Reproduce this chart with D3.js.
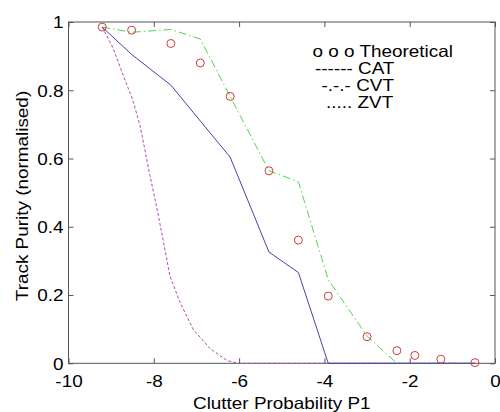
<!DOCTYPE html>
<html>
<head>
<meta charset="utf-8">
<title>Track purity</title>
<script src="https://d3js.org/d3.v7.min.js"></script>
<style>
  body { margin: 0; background: #fff; }
  text { font-family: "Liberation Sans", Arial, sans-serif; fill: #000; }
  .axis path { display: none; }
  .axis line { stroke: #555; }
</style>
</head>
<body>
<div id="chart"></div>
<script>
// values
var xGrid = [-9.21, -8.52, -7.6, -6.91, -6.21, -5.3, -4.61, -3.91, -3.0, -2.3, -1.88, -1.27, -0.47];
var theoretical = [0.985, 0.976, 0.937, 0.88, 0.782, 0.564, 0.361, 0.197, 0.078, 0.037, 0.023, 0.012, 0.002];
var cat = [0.985, 0.905, 0.815, 0.71, 0.604, 0.326, 0.266, 0, 0, 0, 0, 0, 0];
var cvt = [0.985, 0.97, 0.978, 0.95, 0.782, 0.564, 0.532, 0.245, 0.08, 0, 0, 0, 0];
var zvtX = [-9.21, -8.96, -8.72, -8.49, -8.32, -8.09, -7.92, -7.78, -7.62, -7.39, -7.08, -6.68, -6.28, -6.03, -5.3, -4.61, -3.91, -3.0, -2.3, -1.88, -1.27, -0.47];
var zvt = [0.985, 0.925, 0.845, 0.77, 0.695, 0.55, 0.45, 0.36, 0.255, 0.18, 0.1, 0.043, 0.008, 0, 0, 0, 0, 0, 0, 0, 0, 0];

var xTicks = [-10, -8, -6, -4, -2, 0];
var xTickLabels = ["-10", "-8", "-6", "-4", "-2", "0"];
var yTicks = [0, 0.2, 0.4, 0.6, 0.8, 1];
var yTickLabels = ["0", "0.2", "0.4", "0.6", "0.8", "1"];
var legendLines = ["o o o Theoretical", "------ CAT", "-.-.- CVT", "..... ZVT"];

var width = 500, height = 412;
var margin = { top: 22, right: 5, bottom: 49, left: 68.5 };
var fs = 16.3, sx = 1.16;   // text is drawn a bit wider than Arial

var svg = d3.select("#chart").append("svg")
    .attr("width", width)
    .attr("height", height);

var x = d3.scaleLinear().domain([-10, 0]).range([margin.left, width - margin.right]);
var y = d3.scaleLinear().domain([0, 1]).range([height - margin.bottom + 0.3, margin.top]);

// axes, ticks pointing inward
var bottom = svg.append("g").attr("class", "axis")
    .attr("transform", "translate(0," + y(0) + ")")
    .call(d3.axisBottom(x).tickValues(xTicks).tickSizeInner(-5).tickSizeOuter(0)
        .tickFormat(function(d, i) { return xTickLabels[i]; }));
bottom.selectAll("text")
    .attr("y", null).attr("dy", null)
    .attr("transform", "translate(0,24) scale(" + sx + ",1)")
    .style("font-size", fs + "px");

var left = svg.append("g").attr("class", "axis")
    .attr("transform", "translate(" + x(-10) + ",0)")
    .call(d3.axisLeft(y).tickValues(yTicks).tickSizeInner(-5).tickSizeOuter(0)
        .tickFormat(function(d, i) { return yTickLabels[i]; }));
left.selectAll("text")
    .attr("x", null).attr("dy", null)
    .attr("transform", "translate(-5,5.8) scale(" + sx + ",1)")
    .style("font-size", fs + "px");

svg.append("g").attr("class", "axis")
    .attr("transform", "translate(0," + y(1) + ")")
    .call(d3.axisTop(x).tickValues(xTicks).tickSizeInner(-5).tickSizeOuter(0).tickFormat(""));
svg.append("g").attr("class", "axis")
    .attr("transform", "translate(" + x(0) + ",0)")
    .call(d3.axisRight(y).tickValues(yTicks).tickSizeInner(-5).tickSizeOuter(0).tickFormat(""));

svg.append("rect")
    .attr("x", x(-10)).attr("y", y(1))
    .attr("width", x(0) - x(-10)).attr("height", y(0) - y(1))
    .attr("fill", "none").attr("stroke", "#555").attr("stroke-width", 1);

// curves
var line = d3.line()
    .x(function(d) { return x(d[0]); })
    .y(function(d) { return y(d[1]); });

svg.append("path")
    .datum(d3.zip(zvtX, zvt))
    .attr("d", line)
    .attr("fill", "none")
    .attr("stroke", "#b448b4")
    .attr("stroke-width", 1)
    .attr("stroke-dasharray", "3,2");

svg.append("path")
    .datum(d3.zip(xGrid, cvt))
    .attr("d", line)
    .attr("fill", "none")
    .attr("stroke", "#4fd64f")
    .attr("stroke-width", 1)
    .attr("stroke-dasharray", "8,3,1.5,3");

svg.append("path")
    .datum(d3.zip(xGrid, cat))
    .attr("d", line)
    .attr("fill", "none")
    .attr("stroke", "#4444ac")
    .attr("stroke-width", 1);

svg.selectAll(".theo")
    .data(d3.zip(xGrid, theoretical))
    .enter().append("circle")
    .attr("class", "theo")
    .attr("cx", function(d) { return x(d[0]); })
    .attr("cy", function(d) { return y(d[1]); })
    .attr("r", 4)
    .attr("fill", "none")
    .attr("stroke", "#d03c3c")
    .attr("stroke-width", 1);

// legend text block
var legX = [312.5, 315, 321.5, 326];
var legY = [56.7, 73.5, 91, 108.3];
svg.selectAll(".leg")
    .data(legendLines)
    .enter().append("text")
    .attr("class", "leg")
    .attr("transform", function(d, i) { return "translate(" + legX[i] + "," + legY[i] + ") scale(" + sx + ",1)"; })
    .style("font-size", fs + "px")
    .text(function(d) { return d; });

// axis labels
svg.append("text")
    .attr("transform", "translate(" + (x(-10) + x(0)) / 2 + ",409) scale(" + sx + ",1)")
    .attr("text-anchor", "middle")
    .style("font-size", fs + "px")
    .text("Clutter Probability P1");

svg.append("text")
    .attr("transform", "translate(28,196) rotate(-90) scale(" + sx + ",1)")
    .attr("text-anchor", "middle")
    .style("font-size", fs + "px")
    .text("Track Purity (normalised)");
</script>
</body>
</html>
